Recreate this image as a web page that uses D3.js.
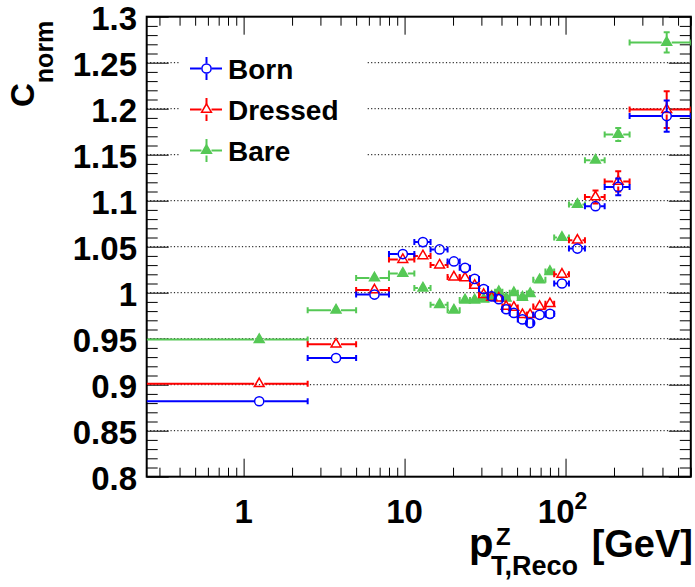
<!DOCTYPE html>
<html><head><meta charset="utf-8">
<script src="https://cdn.jsdelivr.net/npm/d3@7"></script>
<style>
body{margin:0;background:#fff;}
svg{display:block;font-family:"Liberation Sans",Arial,Helvetica,sans-serif;font-weight:bold;}
</style>
</head><body>
<svg id="c" width="695" height="587"></svg>
<script>
// ---------- data ----------
const binEdges = [0, 2.5, 5, 8, 11.5, 14.5, 18.5, 22, 25.5, 29, 33, 36.5, 40.5, 45, 50.5, 57.5, 63, 75, 85, 105, 132, 175, 250, 600];
const seriesNames = ["Born", "Dressed", "Bare"];
const bornValues = [0.882, 0.929, 0.998, 1.042, 1.055, 1.047, 1.034, 1.027, 1.015, 1.004, 0.996, 0.993, 0.982, 0.978, 0.971, 0.967, 0.976, 0.977, 1.010, 1.048, 1.094, 1.115, 1.192];
const bornErrors = [0.001, 0.001, 0.001, 0.001, 0.001, 0.001, 0.001, 0.001, 0.001, 0.001, 0.001, 0.001, 0.001, 0.001, 0.001, 0.002, 0.002, 0.002, 0.003, 0.004, 0.005, 0.009, 0.017];
const dressedValues = [0.901, 0.944, 1.003, 1.036, 1.040, 1.030, 1.017, 1.016, 1.008, 0.998, 0.995, 0.994, 0.985, 0.984, 0.976, 0.976, 0.985, 0.988, 1.020, 1.057, 1.104, 1.121, 1.199];
const dressedErrors = [0.001, 0.001, 0.001, 0.001, 0.001, 0.001, 0.001, 0.001, 0.001, 0.001, 0.001, 0.001, 0.001, 0.001, 0.002, 0.002, 0.002, 0.003, 0.004, 0.005, 0.007, 0.011, 0.020];
const bareValues = [0.949, 0.981, 1.016, 1.021, 1.005, 0.987, 0.981, 0.992, 0.992, 0.993, 0.996, 1.001, 0.994, 1.000, 0.995, 0.999, 1.014, 1.023, 1.060, 1.096, 1.144, 1.172, 1.272];
const bareErrors = [0.001, 0.001, 0.001, 0.001, 0.001, 0.001, 0.001, 0.001, 0.001, 0.001, 0.001, 0.001, 0.001, 0.001, 0.001, 0.002, 0.002, 0.002, 0.003, 0.004, 0.005, 0.007, 0.011];
const yTickValues = [0.8, 0.85, 0.9, 0.95, 1.0, 1.05, 1.1, 1.15, 1.2, 1.25, 1.3];
const yTickLabels = ["0.8", "0.85", "0.9", "0.95", "1", "1.05", "1.1", "1.15", "1.2", "1.25", "1.3"];
const xMajorTicks = [1, 10, 100];
const xTickLabels = ["1", "10", "10"];
const xTickExponents = ["", "", "2"];

// ---------- layout ----------
const W = 695, H = 587;
const L = 146.7, R = 690.8, T = 16.7, B = 476.7;
const xDomain = [0.25, 600];
const x = d3.scaleLog().domain(xDomain).range([L, R]);
const y = d3.scaleLinear().domain([0.8, 1.3]).range([B, T]);
const svg = d3.select("#c");
svg.append("rect").attr("width", W).attr("height", H).attr("fill", "#fff");

const colors = {Born: "#0000ff", Dressed: "#ff0000", Bare: "#55c855"};

// gridlines
svg.append("g").selectAll("line").data(yTickValues.slice(1, -1)).join("line")
  .attr("x1", L).attr("x2", R).attr("y1", d => y(d)).attr("y2", d => y(d))
  .attr("stroke", "#000").attr("stroke-width", 1).attr("stroke-dasharray", "1.2,2.2");

// legend box (white, no border)
svg.append("rect").attr("x", 180).attr("y", 46).attr("width", 187).attr("height", 127).attr("fill", "#fff");

// minor tick values
const xMinor = [];
[0.1, 1, 10, 100].forEach(dec => { for (let k = 2; k <= 9; k++) { const v = k * dec; if (v >= xDomain[0] && v <= xDomain[1]) xMinor.push(v); } });
const yMinor = d3.range(0, 51).map(i => +(0.8 + i * 0.01).toFixed(2)).filter(v => !yTickValues.some(t => Math.abs(t - v) < 1e-6));

function axisG(gen, tx, ty) {
  const g = svg.append("g").attr("transform", `translate(${tx},${ty})`).call(gen);
  g.select(".domain").remove();
  g.selectAll("line").attr("stroke", "#000").attr("stroke-width", 1);
  g.selectAll("text").remove();
  return g;
}
// bottom (ticks inward)
axisG(d3.axisTop(x).tickValues(xMinor).tickSize(9).tickFormat(""), 0, B);
axisG(d3.axisTop(x).tickValues(xMajorTicks).tickSize(18).tickFormat(""), 0, B);
// top
axisG(d3.axisBottom(x).tickValues(xMinor).tickSize(9).tickFormat(""), 0, T);
axisG(d3.axisBottom(x).tickValues(xMajorTicks).tickSize(18).tickFormat(""), 0, T);
// left
axisG(d3.axisRight(y).tickValues(yMinor).tickSize(11).tickFormat(""), L, 0);
axisG(d3.axisRight(y).tickValues(yTickValues).tickSize(22).tickFormat(""), L, 0);
// right
axisG(d3.axisLeft(y).tickValues(yMinor).tickSize(11).tickFormat(""), R, 0);
axisG(d3.axisLeft(y).tickValues(yTickValues).tickSize(22).tickFormat(""), R, 0);

// frame
svg.append("rect").attr("x", L).attr("y", T).attr("width", R - L).attr("height", B - T)
  .attr("fill", "none").attr("stroke", "#000").attr("stroke-width", 2);

// y tick labels
svg.append("g").selectAll("text").data(yTickValues).join("text")
  .attr("x", 137).attr("y", d => y(d) + 13).attr("text-anchor", "end")
  .attr("font-size", 33).attr("fill", "#000").text((d, i) => yTickLabels[i]);

// x tick labels
xMajorTicks.forEach((v, i) => {
  const t = svg.append("text").attr("y", 523).attr("font-size", 33).attr("fill", "#000");
  if (xTickExponents[i]) {
    t.attr("x", x(v) - 3).attr("text-anchor", "middle");
    t.append("tspan").text(xTickLabels[i]);
    t.append("tspan").attr("font-size", 23).attr("dy", -14).text(xTickExponents[i]);
  } else {
    t.attr("x", x(v)).attr("text-anchor", "middle").text(xTickLabels[i]);
  }
});

// axis titles
svg.append("text").attr("x", 469).attr("y", 557).attr("font-size", 40).attr("fill", "#000").text("p");
svg.append("text").attr("x", 496).attr("y", 545).attr("font-size", 24).attr("fill", "#000").text("Z");
svg.append("text").attr("x", 491).attr("y", 575).attr("font-size", 27).attr("fill", "#000").text("T,Reco");
svg.append("text").attr("x", 693).attr("y", 557).attr("text-anchor", "end").attr("font-size", 38).attr("fill", "#000").text("[GeV]");

const yt = svg.append("text").attr("transform", "translate(34,107) rotate(-90)").attr("font-size", 33).attr("fill", "#000");
yt.append("tspan").text("C");
yt.append("tspan").attr("font-size", 25).attr("dy", 19).text("norm");

// ---------- data marks ----------
const plot = svg.append("g");
svg.append("clipPath").attr("id", "clip").append("rect").attr("x", L).attr("y", T).attr("width", R - L).attr("height", B - T);
plot.attr("clip-path", "url(#clip)");

function makeRows(values, errors) {
  return values.map((v, i) => ({lo: binEdges[i], hi: binEdges[i + 1], c: (binEdges[i] + binEdges[i + 1]) / 2, v, e: errors[i]}));
}
const series = [
  {name: "Bare", rows: makeRows(bareValues, bareErrors), marker: "tri", fill: true},
  {name: "Dressed", rows: makeRows(dressedValues, dressedErrors), marker: "tri", fill: false},
  {name: "Born", rows: makeRows(bornValues, bornErrors), marker: "circ", fill: false}
];
const triPath = d3.symbol().type(d3.symbolTriangle).size(42)();
const GAP = 5, CAP = 3;

function drawMarker(g, cx, cy, s) {
  const col = colors[s.name];
  if (s.marker === "circ") {
    g.append("circle").attr("cx", cx).attr("cy", cy).attr("r", 4.6)
      .attr("fill", "none").attr("stroke", col).attr("stroke-width", 1.5);
  } else {
    g.append("path").attr("d", triPath).attr("transform", `translate(${cx},${cy})`)
      .attr("fill", s.fill ? col : "none").attr("stroke", col).attr("stroke-width", 1.5);
  }
}

series.forEach(s => {
  const col = colors[s.name];
  const g = plot.append("g").attr("stroke", col).attr("stroke-width", 2);
  s.rows.forEach(r => {
    const cx = x(r.c), cy = y(r.v);
    const xl = x(Math.max(r.lo, xDomain[0])), xr = x(r.hi);
    if (cx - GAP > xl) g.append("line").attr("x1", xl).attr("x2", cx - GAP).attr("y1", cy).attr("y2", cy);
    if (xr > cx + GAP) g.append("line").attr("x1", cx + GAP).attr("x2", xr).attr("y1", cy).attr("y2", cy);
    if (r.lo >= xDomain[0]) g.append("line").attr("x1", xl).attr("x2", xl).attr("y1", cy - CAP).attr("y2", cy + CAP);
    g.append("line").attr("x1", xr).attr("x2", xr).attr("y1", cy - CAP).attr("y2", cy + CAP);
    const yt = y(r.v + r.e), yb = y(r.v - r.e);
    if (cy - yt > GAP) {
      g.append("line").attr("x1", cx).attr("x2", cx).attr("y1", yt).attr("y2", cy - GAP);
      g.append("line").attr("x1", cx).attr("x2", cx).attr("y1", cy + GAP).attr("y2", yb);
      g.append("line").attr("x1", cx - CAP).attr("x2", cx + CAP).attr("y1", yt).attr("y2", yt);
      g.append("line").attr("x1", cx - CAP).attr("x2", cx + CAP).attr("y1", yb).attr("y2", yb);
    }
    drawMarker(plot, cx, cy, s);
  });
});

// ---------- legend ----------
const legendY = [68.5, 109.5, 150.5];
seriesNames.forEach((n, i) => {
  const s = series.find(q => q.name === n);
  const col = colors[n];
  const cy = legendY[i], cx = 206.5;
  const g = svg.append("g").attr("stroke", col).attr("stroke-width", 2);
  g.append("line").attr("x1", 190).attr("x2", cx - GAP).attr("y1", cy).attr("y2", cy);
  g.append("line").attr("x1", cx + GAP).attr("x2", 222).attr("y1", cy).attr("y2", cy);
  g.append("line").attr("x1", cx).attr("x2", cx).attr("y1", cy - 11.5).attr("y2", cy - GAP);
  g.append("line").attr("x1", cx).attr("x2", cx).attr("y1", cy + GAP).attr("y2", cy + 11.5);
  drawMarker(svg, cx, cy, s);
  svg.append("text").attr("x", 228).attr("y", cy + 10).attr("font-size", 28).attr("fill", "#000").text(n);
});
</script>
</body></html>
